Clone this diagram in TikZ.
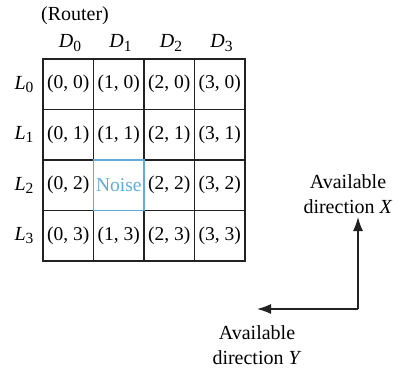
\documentclass[tikz,border=0pt]{standalone}
\usepackage{fontspec}
\setmainfont{Liberation Serif}
\usetikzlibrary{arrows.meta}
\definecolor{noiseblue}{RGB}{95,172,216}
\definecolor{gridline}{RGB}{34,34,34}
\newcommand{\idx}[2]{\textit{#1}\raisebox{-0.35ex}{\fontsize{15.5}{15.5}\selectfont #2}}
\tikzset{
  x=1pt, y=-1pt,
  txt/.style={font=\fontsize{20}{25}\selectfont, inner sep=0pt},
  cell/.style={draw=gridline, line width=1.1pt, minimum size=50.5pt, inner sep=0pt, anchor=center, font=\fontsize{19.5}{25}\selectfont},
  noisecell/.style={cell, draw=noiseblue, text=noiseblue},
  dirarrow/.style={draw=gridline, line width=1.3pt, -{Latex[length=14pt,width=10pt]}}
}
\begin{document}
\begin{tikzpicture}
\useasboundingbox (0,0) rectangle (405,375);
% grid of routers (cell (1,2) is the faulty one, drawn separately)
\foreach \c in {0,...,3}{
  \foreach \r in {0,...,3}{
    \ifnum\c\r=12\relax\else
      \node[cell] (c\c\r) at ({68.25+50.5*\c},{84.25+50.5*\r}) {(\c, \r)};
    \fi
  }
}
% the faulty router
\node[noisecell] (noise) at ({68.25+50.5},{84.25+101}) {Noise};
% column and row labels
\node[txt] (router) at (75,16) {(Router)};
\foreach \c in {0,...,3}{
  \node[txt] (d\c) at ({70+50.5*\c},43) {\idx{D}{\c}};
}
\foreach \r in {0,...,3}{
  \node[txt] (l\r) at (24,{84.25+50.5*\r}) {\idx{L}{\r}};
}
% available routing directions
\node[txt, align=center] (dirx) at (348,194) {Available\\direction \textit{X}};
\node[txt, align=center] (diry) at (257,345) {Available\\direction \textit{Y}};
\coordinate (corner) at (358,309);
\coordinate (xtip) at (358,217);
\coordinate (ytip) at (257,309);
\draw[dirarrow] (corner) -- (xtip);
\draw[dirarrow] (corner) -- (ytip);
\end{tikzpicture}
\end{document}
